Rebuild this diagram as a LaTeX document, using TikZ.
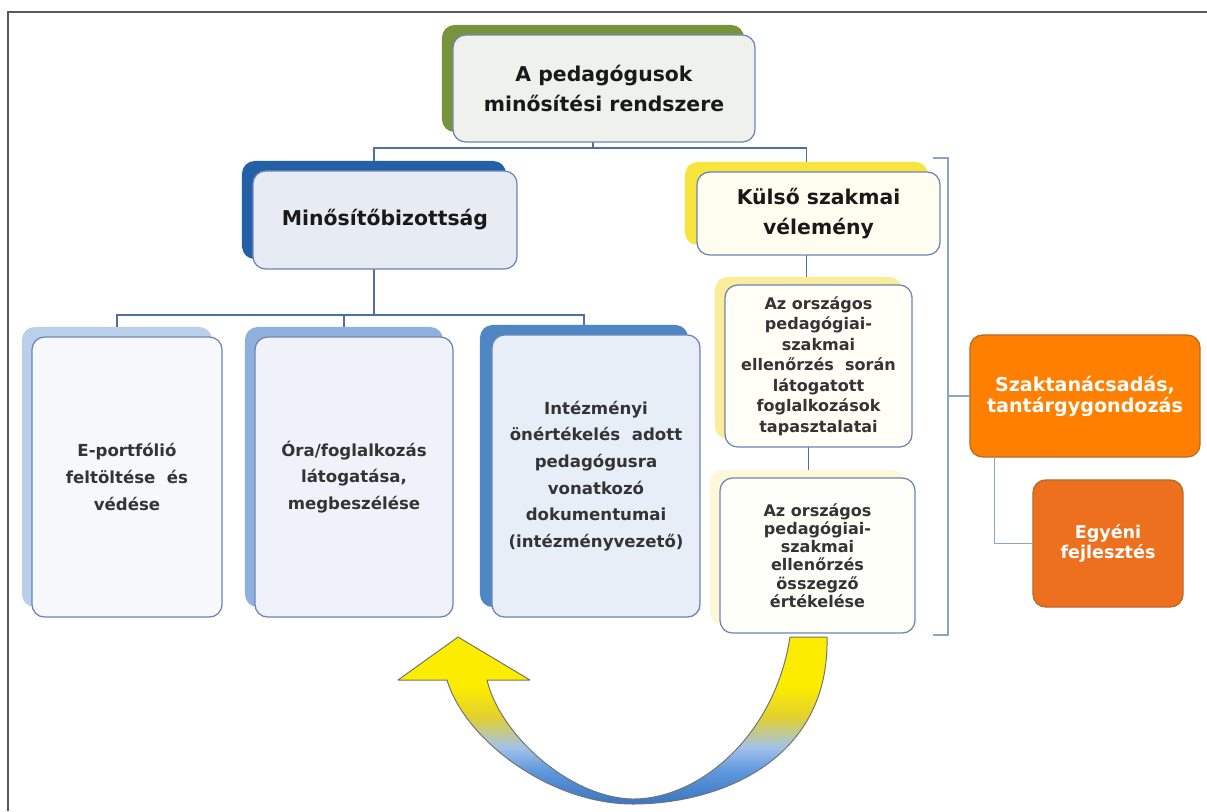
\documentclass[tikz,border=0pt]{standalone}
\usepackage{fontspec}
\setmainfont{DejaVu Sans}
\usetikzlibrary{calc}

\definecolor{linkblue}{HTML}{4F6FA0}
\definecolor{edgeblue}{HTML}{6E84B4}
\definecolor{brkblue}{HTML}{8AA6C6}
\definecolor{textgrey}{HTML}{343434}
\definecolor{topgreen}{HTML}{77933C}
\definecolor{topfill}{HTML}{EFF1EC}
\definecolor{mbblue}{HTML}{2360A6}
\definecolor{mbfill}{HTML}{E6EBF4}
\definecolor{ksyellow}{HTML}{F7E43C}
\definecolor{ksfill}{HTML}{FFFDF0}
\definecolor{boxonec}{HTML}{B9CFEA}
\definecolor{boxonefill}{HTML}{F6F8FC}
\definecolor{boxtwoc}{HTML}{8DB0DC}
\definecolor{boxtwofill}{HTML}{EFF3F9}
\definecolor{boxthreec}{HTML}{4F86C6}
\definecolor{boxthreefill}{HTML}{E8EEF8}
\definecolor{ayellow}{HTML}{FBEC9A}
\definecolor{byellow}{HTML}{FFF8D8}
\definecolor{orangeone}{HTML}{FF8000}
\definecolor{orangetwo}{HTML}{EC701E}
\definecolor{orangeedge}{HTML}{B86A2C}
\definecolor{arrowblue}{HTML}{3A76C2}
\definecolor{arrowmid}{HTML}{5F98DC}
\definecolor{arrowlight}{HTML}{A2C2EA}
\definecolor{arrowyellow}{HTML}{FCEC00}
\definecolor{arrowgold}{HTML}{E2D030}

\pgfdeclareverticalshading{arrowshade}{100bp}{color(0bp)=(arrowblue); color(25bp)=(arrowblue); color(35bp)=(arrowmid); color(42bp)=(arrowlight); color(51bp)=(arrowgold); color(60bp)=(arrowyellow); color(100bp)=(arrowyellow)}

\tikzset{
  front/.style={draw=edgeblue, line width=0.9pt, rounded corners=9pt, align=center, inner sep=0pt, text=textgrey},
  back/.style={rounded corners=9pt, inner sep=0pt},
  link/.style={draw=linkblue, line width=0.8pt},
  brk/.style={draw=brkblue, line width=0.9pt},
  headfont/.style={font=\bfseries\fontsize{14.5}{21}\selectfont, text=black!90},
  boxfont/.style={font=\bfseries\fontsize{11.8}{19}\selectfont},
  orange/.style={draw=orangeedge, line width=0.9pt, rounded corners=9pt, align=center, inner sep=0pt, text=white, font=\bfseries\fontsize{13.6}{14.8}\selectfont},
}

\begin{document}
\begin{tikzpicture}[x=0.025cm, y=-0.025cm]
  \useasboundingbox (0,0) rectangle (1207,811);
  % Frame
  \draw[black!65, line width=1pt] (8,811) -- (8,12) -- (1207,12);

  % Coloured backs
  \node[back, fill=topgreen, minimum width=7.55cm, minimum height=2.675cm] (tops) at (593,78.5) {};
  \node[back, fill=mbblue, minimum width=6.6cm, minimum height=2.45cm] (ms) at (374,210) {};
  \node[back, fill=ksyellow, minimum width=6.075cm, minimum height=2.075cm] (ks) at (806.5,203.5) {};
  \node[back, fill=boxonec, minimum width=4.75cm, minimum height=7cm] (b1s) at (117,467) {};
  \node[back, fill=boxtwoc, minimum width=4.95cm, minimum height=7cm] (b2s) at (344,467) {};
  \node[back, fill=boxthreec, minimum width=5.2cm, minimum height=7.05cm] (b3s) at (584,466) {};
  \node[back, fill=ayellow, minimum width=4.675cm, minimum height=4.05cm] (as) at (808.5,358) {};
  \node[back, fill=byellow, minimum width=4.875cm, minimum height=3.875cm] (bs) at (807.5,547.5) {};

  % Connectors
  \coordinate (bus1) at (593,148);
  \coordinate (bus2) at (374,315);
  \draw[link] (tops) -- (bus1);
  \draw[link] (ms.north) |- (bus1) -| (ks.north);
  \draw[link] (ms) -- (bus2);
  \draw[link] (b1s.north) |- (bus2) -| (b3s.north);
  \draw[link] (b2s.north) -- (b2s.north |- bus2);
  \draw[link] (ks) -- (ks |- as.north);
  \draw[link] (as) -- (as |- bs.north);

  % Front boxes
  \node[front, headfont, fill=topfill, minimum width=7.55cm, minimum height=2.675cm] (top) at (604,88.5) {A pedagógusok\\minősítési rendszere};
  \node[front, headfont, fill=mbfill, minimum width=6.6cm, minimum height=2.45cm] (mb) at (385,220) {Minősítőbizottság};
  \node[front, headfont, fill=ksfill, minimum width=6.075cm, minimum height=2.075cm] (kv) at (818.5,213.5) {Külső szakmai\\vélemény};
  \node[front, boxfont, fill=boxonefill, minimum width=4.75cm, minimum height=7cm] (b1) at (127,477) {E-portfólió\\feltöltése \ és\\védése};
  \node[front, boxfont, fill=boxtwofill, minimum width=4.95cm, minimum height=7cm] (b2) at (354,477) {Óra/foglalkozás\\látogatása,\\megbeszélése};
  \node[front, boxfont, fill=boxthreefill, minimum width=5.2cm, minimum height=7.05cm] (b3) at (596,476) {Intézményi\\önértékelés \ adott\\pedagógusra\\vonatkozó\\dokumentumai\\(intézményvezető)};
  \node[front, font=\bfseries\fontsize{11.4}{14.6}\selectfont, fill=yellow!3, minimum width=4.675cm, minimum height=4.05cm] (ab) at (818.5,366) {Az országos\\pedagógiai-\\szakmai\\ellenőrzés \ során\\látogatott\\foglalkozások\\tapasztalatai};
  \node[front, font=\bfseries\fontsize{11.4}{13}\selectfont, fill=yellow!2, minimum width=4.875cm, minimum height=3.875cm] (bb) at (817.5,555.5) {Az országos\\pedagógiai-\\szakmai\\ellenőrzés\\összegző\\értékelése};

  % Bracket and orange boxes
  \coordinate (brt) at (948,158);
  \coordinate (brb) at (948,635);
  \draw[brk] ($(brt)+(-15,0)$) -- (brt) -- (brb) -- ($(brb)+(-15,0)$);
  \node[orange, fill=orangeone, minimum width=5.75cm, minimum height=3.05cm] (o1) at (1085,396) {Szaktanácsadás,\\tantárgygondozás};
  \node[orange, fill=orangetwo, font=\bfseries\fontsize{12.5}{14.5}\selectfont, minimum width=3.75cm, minimum height=3.175cm] (o2) at (1108,543.5) {Egyéni\\fejlesztés};
  \draw[brk] (o1.west) -- (o1.west -| brt);
  \draw[brk] ($(o1.south west)+(25,0)$) |- (o2.west);

  % Curved arrow
  \shadedraw[shading=arrowshade, draw=black!55, line width=0.7pt, line join=round]
    (458,637) -- (530,680) -- (487,680)
    .. controls (500,735) and (570,798) .. (633,799)
    .. controls (700,799) and (775,735) .. (790,637)
    -- (827,637)
    .. controls (830,760) and (720,804) .. (633,804)
    .. controls (550,804) and (465,740) .. (447,680)
    -- (398,680) -- cycle;
\end{tikzpicture}
\end{document}
